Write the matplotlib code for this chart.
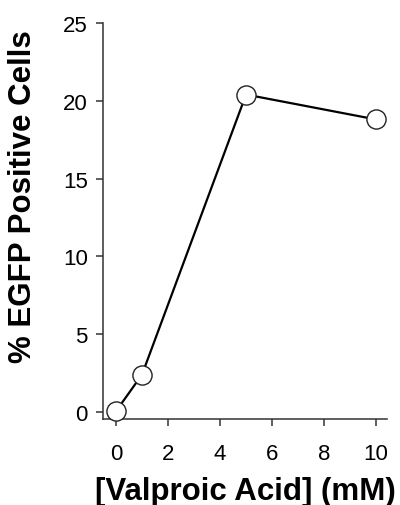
import matplotlib
matplotlib.use("Agg")
import matplotlib.pyplot as plt

# Valproic acid dose vs % EGFP positive cells
vpa_mM = [0, 1, 5, 10]
egfp_pct = [0.05, 2.4, 20.4, 18.8]
x_ticks = [0, 2, 4, 6, 8, 10]
y_ticks = [0, 5, 10, 15, 20, 25]

plt.rcParams['font.family'] = ['Liberation Sans', 'DejaVu Sans']

fig = plt.figure(figsize=(4.0, 5.06), dpi=100)
ax = fig.add_axes([0.2575, 0.170, 0.71, 0.7826])

ax.plot(vpa_mM, egfp_pct, color='black', linewidth=1.6,
        marker='o', markersize=13.8, markerfacecolor='white',
        markeredgecolor='#222222', markeredgewidth=1.0, clip_on=False, zorder=3)

ax.set_xlim(-0.5, 10.42)
ax.set_ylim(-0.45, 25)
ax.set_xticks(x_ticks)
ax.set_yticks(y_ticks)

for side in ['top', 'right']:
    ax.spines[side].set_visible(False)
for side in ['left', 'bottom']:
    ax.spines[side].set_linewidth(1.1)
    ax.spines[side].set_color('#333333')

ax.tick_params(direction='out', length=5, width=1.1, color='#333333',
               labelsize=16)
ax.tick_params(axis='x', pad=12)
ax.tick_params(axis='y', pad=6)

fig.text(245.5 / 400, 1 - 492 / 506, '[Valproic Acid] (mM)', fontsize=22.5,
         fontweight='bold', ha='center', va='center')
fig.text(23 / 400, 1 - 197 / 506, '% EGFP Positive Cells', fontsize=22.5,
         fontweight='bold', ha='center', va='center', rotation=90)

fig.savefig('out.png', dpi=100)
